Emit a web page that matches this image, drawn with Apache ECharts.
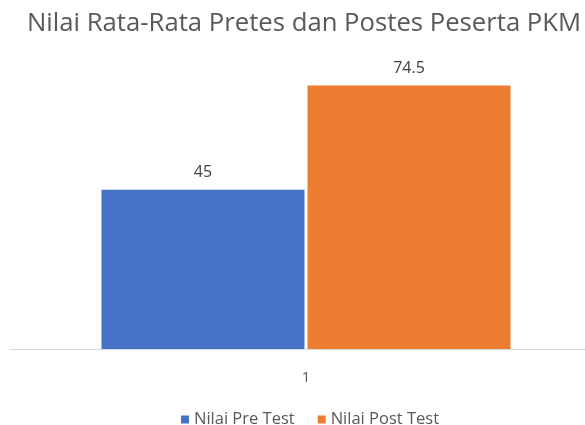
<!DOCTYPE html>
<html style="height: 100%" lang="id">
<head>
    <meta charset="UTF-8">
    <title>Nilai Rata-Rata Pretes dan Postes Peserta PKM</title>
</head>
<body style="height: 100%; margin: 0; background: #fff">
<div id="main" style="width: 585px; height: 425px"></div>

<script src="https://cdn.jsdelivr.net/npm/echarts@6/dist/echarts.min.js"></script>
<script type="text/javascript">
    // data
    var categories = ['1'];
    var preTest = [45];
    var postTest = [74.5];
    var seriesNames = ['Nilai Pre Test', 'Nilai Post Test'];

    var font = 'Open Sans';
    var myChart = echarts.init(document.getElementById('main'));
    var option = {
        title: {
            text: 'Nilai Rata-Rata Pretes dan Postes Peserta PKM',
            left: 22,
            top: 6,
            textStyle: {fontFamily: font, fontSize: 25.7, fontWeight: 'normal', color: '#595959'}
        },
        legend: {
            data: seriesNames,
            top: 406,
            left: 176,
            itemWidth: 8,
            itemHeight: 8,
            itemGap: 23,
            icon: 'rect',
            textStyle: {fontFamily: font, fontSize: 16.5, color: '#595959'}
        },
        grid: {left: 10, width: 592, top: 66, bottom: 76, outerBoundsMode: 'none'},
        xAxis: {
            type: 'category',
            data: categories,
            axisLine: {lineStyle: {color: '#d9d9d9', width: 1}},
            axisTick: {show: false},
            axisLabel: {fontFamily: font, fontSize: 15, color: '#595959', margin: 21}
        },
        yAxis: {
            type: 'value',
            min: 0,
            max: 80,
            show: false
        },
        series: [
            {
                name: seriesNames[0],
                type: 'bar',
                data: preTest,
                barWidth: 203,
                barGap: '1.5%',
                itemStyle: {color: '#4472C4'},
                label: {show: true, position: 'top', distance: 9, fontFamily: font, fontSize: 16, color: '#404040'}
            },
            {
                name: seriesNames[1],
                type: 'bar',
                data: postTest,
                barWidth: 203,
                itemStyle: {color: '#ED7D31'},
                label: {show: true, position: 'top', distance: 9, fontFamily: font, fontSize: 16, color: '#404040'}
            }
        ]
    };
    myChart.setOption(option);
</script>
</body>
</html>
